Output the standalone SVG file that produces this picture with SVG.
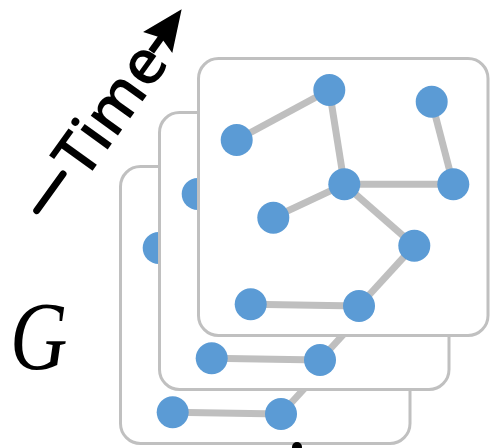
<svg xmlns="http://www.w3.org/2000/svg" xmlns:xlink="http://www.w3.org/1999/xlink" width="493" height="448" viewBox="0 0 493 448">
  <style>
    .card { fill: #ffffff; stroke: #c0c0c0; stroke-width: 3; }
    .edge { stroke: #bfbfbf; stroke-width: 7; stroke-linecap: butt; }
    .vertex { fill: #5b9bd5; }
    .axis { stroke: #000000; stroke-width: 7; stroke-linecap: round; fill: none; }
    .axis-label { font-family: "Open Sans", "DejaVu Sans", sans-serif; font-size: 62px; font-weight: 600; fill: #000000; }
    .set-label { font-family: "Liberation Serif", "DejaVu Serif", serif; font-style: italic; font-size: 97px; fill: #000000; }
  </style>
  <defs>
    <!-- one snapshot of the graph; reused on every frame -->
    <g id="snapshot">
      <g id="connectors">
        <line class="edge" x1="329.3" y1="90" x2="236.7" y2="140"/>
        <line class="edge" x1="329.3" y1="90" x2="344.3" y2="184.3"/>
        <line class="edge" x1="431.7" y1="101.7" x2="453.3" y2="184.3"/>
        <line class="edge" x1="344.3" y1="184.3" x2="453.3" y2="184.3"/>
        <line class="edge" x1="344.3" y1="184.3" x2="273.3" y2="217.7"/>
        <line class="edge" x1="344.3" y1="184.3" x2="414.3" y2="245.7"/>
        <line class="edge" x1="414.3" y1="245.7" x2="359" y2="306"/>
        <line class="edge" x1="250.7" y1="304.3" x2="359" y2="306"/>
      </g>
      <g id="v1"><circle class="vertex" cx="329.3" cy="90" r="16"/></g>
      <g id="v2"><circle class="vertex" cx="236.7" cy="140" r="16"/></g>
      <g id="v3"><circle class="vertex" cx="431.7" cy="101.7" r="16"/></g>
      <g id="v4"><circle class="vertex" cx="344.3" cy="184.3" r="16"/></g>
      <g id="v5"><circle class="vertex" cx="453.3" cy="184.3" r="16"/></g>
      <g id="v6"><circle class="vertex" cx="273.3" cy="217.7" r="16"/></g>
      <g id="v7"><circle class="vertex" cx="414.3" cy="245.7" r="16"/></g>
      <g id="v8"><circle class="vertex" cx="250.7" cy="304.3" r="16"/></g>
      <g id="v9"><circle class="vertex" cx="359" cy="306" r="16"/></g>
    </g>
  </defs>

  <!-- stacked frames, oldest at the back -->
  <g id="frame-back" transform="translate(-78,108)">
    <rect class="card" x="198.5" y="58.5" width="289.5" height="277" rx="20"/>
    <use href="#snapshot" xlink:href="#snapshot"/>
  </g>
  <g id="frame-middle" transform="translate(-39,54)">
    <rect class="card" x="198.5" y="58.5" width="289.5" height="277" rx="20"/>
    <use href="#snapshot" xlink:href="#snapshot"/>
  </g>
  <g id="frame-front">
    <rect class="card" x="198.5" y="58.5" width="289.5" height="277" rx="20"/>
    <use href="#snapshot" xlink:href="#snapshot"/>
  </g>

  <!-- dot just below the stack -->
  <circle id="more" cx="297" cy="447" r="5" fill="#000000"/>

  <!-- time axis -->
  <g id="time-axis" transform="translate(35,213) rotate(-54.25)">
    <line class="axis" x1="3" y1="0" x2="48" y2="0"/>
    <text class="axis-label" x="54" y="22">Time</text>
    <line class="axis" x1="199" y1="0" x2="218" y2="0" style="stroke-linecap:butt"/>
    <polygon points="251,0 210,-18 216,0 210,18" fill="#000000"/>
  </g>

  <!-- set label -->
  <text id="label-g" class="set-label" transform="translate(10,369) scale(0.82,1)" x="0" y="0">G</text>
</svg>
